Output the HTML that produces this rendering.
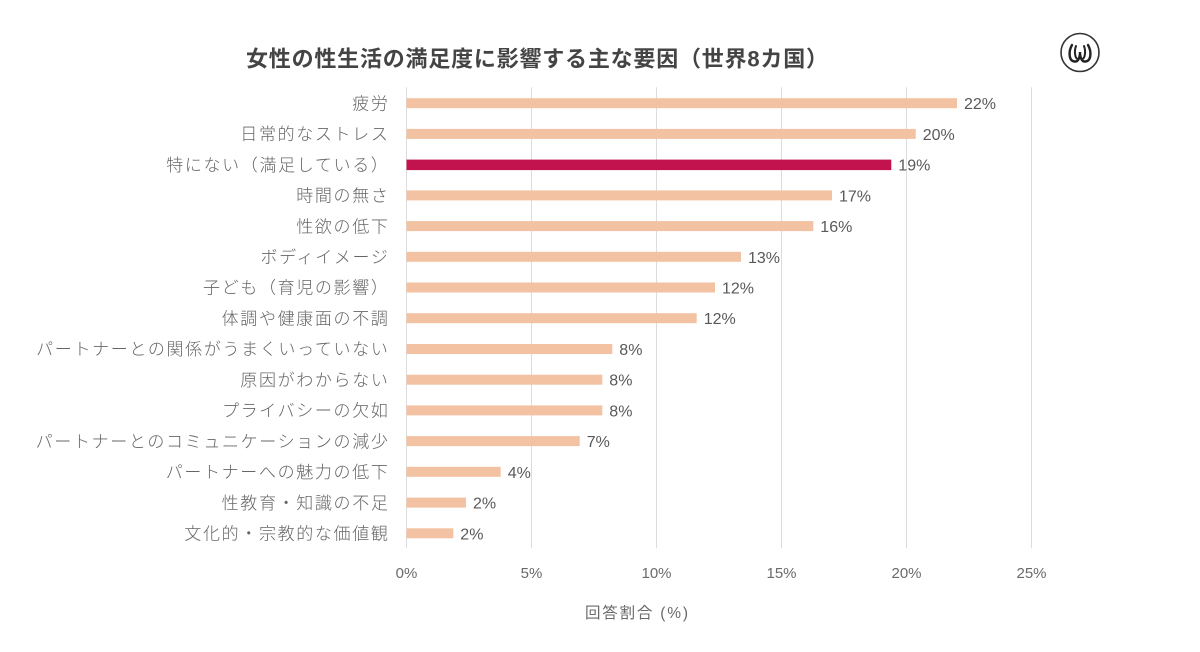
<!DOCTYPE html>
<html>
<head>
<meta charset="utf-8">
<style>
  html,body{margin:0;padding:0;background:#fff;}
  svg{display:block;}
  .lbl{font-family:"Liberation Sans","Noto Sans CJK JP",sans-serif;font-size:17px;letter-spacing:1.65px;fill:#666;font-weight:300;}
  .val{font-family:"Liberation Sans","Noto Sans CJK JP",sans-serif;font-size:16px;fill:#595959;}
  .tick{font-family:"Liberation Sans","Noto Sans CJK JP",sans-serif;font-size:15px;fill:#6a6a6a;}
</style>
</head>
<body>
<svg width="1200" height="652" viewBox="0 0 1200 652" xmlns="http://www.w3.org/2000/svg">
  <rect width="1200" height="652" fill="#fff"/>
  <!-- title -->
  <text x="246" y="66.5" textLength="582" lengthAdjust="spacing" font-family="'Liberation Sans','Noto Sans CJK JP',sans-serif" font-size="22" font-weight="bold" fill="#444">女性の性生活の満足度に影響する主な要因（世界8カ国）</text>
  <!-- logo -->
  <circle cx="1080" cy="52.5" r="19" fill="none" stroke="#333" stroke-width="1.6"/>
  <path d="M1072,45 C1068,52 1069,61 1074.5,61.5 C1078.5,62 1080,57 1080,52 C1080,57 1081.5,62 1085.5,61.5 C1091,61 1092,52 1088,45" fill="none" stroke="#222" stroke-width="2.4" stroke-linecap="round"/>
  <path d="M1076,46 C1074,51 1075,58 1077.5,59 M1084,46 C1086,51 1085,58 1082.5,59" fill="none" stroke="#222" stroke-width="2" stroke-linecap="round"/>

  <!-- gridlines -->
  <g stroke="#dcdcdc" stroke-width="1">
    <line x1="406.5" y1="87.3" x2="406.5" y2="548.3"/>
    <line x1="531.5" y1="87.3" x2="531.5" y2="548.3"/>
    <line x1="656.5" y1="87.3" x2="656.5" y2="548.3"/>
    <line x1="781.5" y1="87.3" x2="781.5" y2="548.3"/>
    <line x1="906.5" y1="87.3" x2="906.5" y2="548.3"/>
    <line x1="1031.5" y1="87.3" x2="1031.5" y2="548.3"/>
  </g>

  <!-- bars -->
  <g fill="#F3C2A2">
    <rect x="406.5" y="98.2" width="550.5" height="10"/>
    <rect x="406.5" y="128.9" width="509.2" height="10"/>
    <rect x="406.5" y="190.4" width="425.5" height="10"/>
    <rect x="406.5" y="221.1" width="406.8" height="10"/>
    <rect x="406.5" y="251.8" width="334.5" height="10"/>
    <rect x="406.5" y="282.5" width="308.5" height="10"/>
    <rect x="406.5" y="313.2" width="290.2" height="10"/>
    <rect x="406.5" y="344.0" width="205.8" height="10"/>
    <rect x="406.5" y="374.7" width="195.8" height="10"/>
    <rect x="406.5" y="405.4" width="195.8" height="10"/>
    <rect x="406.5" y="436.1" width="173.2" height="10"/>
    <rect x="406.5" y="466.8" width="94.2" height="10"/>
    <rect x="406.5" y="497.6" width="59.5" height="10"/>
    <rect x="406.5" y="528.3" width="46.8" height="10"/>
  </g>
  <rect x="406.5" y="159.6" width="484.8" height="10.5" fill="#C2134F"/>

  <!-- category labels -->
  <g class="lbl" text-anchor="end">
    <text x="389.5" y="109.4">疲労</text>
    <text x="389.5" y="140.1">日常的なストレス</text>
    <text x="389.5" y="170.8">特にない（満足している）</text>
    <text x="389.5" y="201.6">時間の無さ</text>
    <text x="389.5" y="232.3">性欲の低下</text>
    <text x="389.5" y="263.0">ボディイメージ</text>
    <text x="389.5" y="293.7">子ども（育児の影響）</text>
    <text x="389.5" y="324.4">体調や健康面の不調</text>
    <text x="389.5" y="355.2">パートナーとの関係がうまくいっていない</text>
    <text x="389.5" y="385.9">原因がわからない</text>
    <text x="389.5" y="416.6">プライバシーの欠如</text>
    <text x="389.5" y="447.3">パートナーとのコミュニケーションの減少</text>
    <text x="389.5" y="478.0">パートナーへの魅力の低下</text>
    <text x="389.5" y="508.8">性教育・知識の不足</text>
    <text x="389.5" y="539.5">文化的・宗教的な価値観</text>
  </g>

  <!-- value labels -->
  <g class="val">
    <text x="964" y="109.2">22%</text>
    <text x="922.7" y="139.9">20%</text>
    <text x="898.3" y="170.6">19%</text>
    <text x="839" y="201.4">17%</text>
    <text x="820.3" y="232.1">16%</text>
    <text x="748" y="262.8">13%</text>
    <text x="722" y="293.5">12%</text>
    <text x="703.7" y="324.2">12%</text>
    <text x="619.3" y="355.0">8%</text>
    <text x="609.3" y="385.7">8%</text>
    <text x="609.3" y="416.4">8%</text>
    <text x="586.7" y="447.1">7%</text>
    <text x="507.7" y="477.8">4%</text>
    <text x="473" y="508.6">2%</text>
    <text x="460.3" y="539.3">2%</text>
  </g>

  <!-- x tick labels -->
  <g class="tick" text-anchor="middle">
    <text x="406.5" y="578">0%</text>
    <text x="531.5" y="578">5%</text>
    <text x="656.5" y="578">10%</text>
    <text x="781.5" y="578">15%</text>
    <text x="906.5" y="578">20%</text>
    <text x="1031.5" y="578">25%</text>
  </g>

  <!-- axis title -->
  <text x="585" y="618" textLength="103" lengthAdjust="spacing" font-family="'Liberation Sans','Noto Sans CJK JP',sans-serif" font-size="15.5" fill="#6a6a6a">回答割合 (%)</text>
</svg>
</body>
</html>
